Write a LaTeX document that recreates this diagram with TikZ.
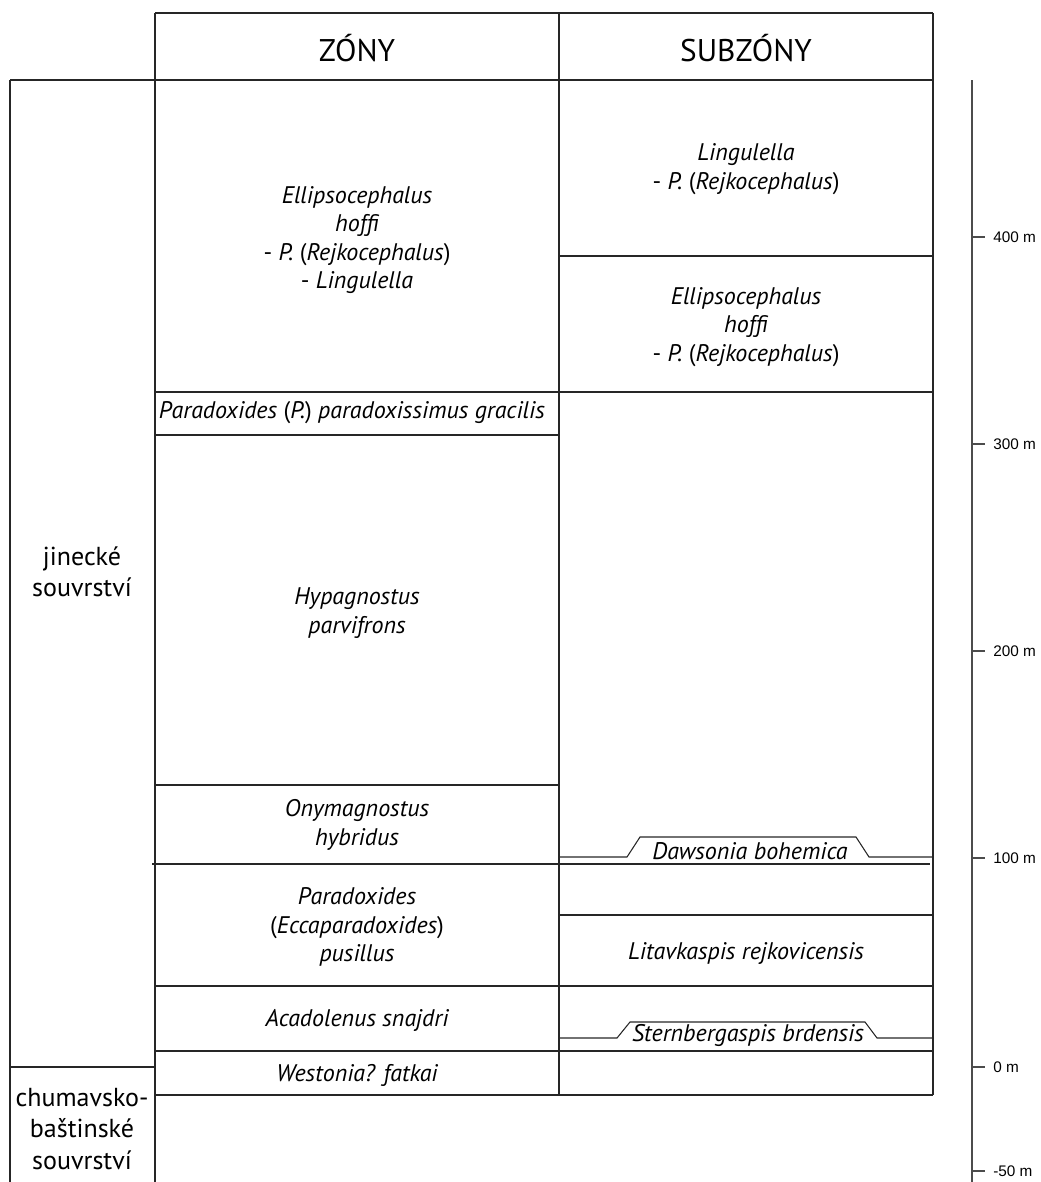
\documentclass[tikz,border=0pt]{standalone}
\usepackage{fontspec}
\setmainfont{PT Sans}
\newfontfamily\scalefamily{Liberation Sans}
\newcommand\uprm[1]{\textup{#1}}
\begin{document}
\begin{tikzpicture}[x=0.75pt,y=-0.75pt,
  rule/.style={draw=black!85, line width=0.8pt},
  taxon/.style={align=center, font=\fontsize{18}{21.3}\selectfont\itshape, inner sep=0},
  head/.style={font=\fontsize{23.5}{26}\selectfont, inner sep=0},
  unit/.style={align=center, font=\fontsize{19.5}{23.5}\selectfont, inner sep=0},
  scl/.style={font=\scalefamily\fontsize{11.5}{13}\selectfont, anchor=west, inner sep=0}]
\useasboundingbox (0,0) rectangle (1040,1182);
% frame
\draw[rule] (155,13) -- (933,13);
\draw[rule] (10,80) -- (933,80);
\draw[rule] (155,13) -- (155,1182);
\draw[rule] (559,13) -- (559,1095);
\draw[rule] (933,13) -- (933,1095);
\draw[rule] (10,80) -- (10,1182);
\draw[rule] (10,1067) -- (155,1067);
\draw[rule] (155,1095) -- (933,1095);
% zone boundaries
\draw[rule] (155,392) -- (933,392);
\draw[rule] (155,435) -- (559,435);
\draw[rule] (155,785) -- (559,785);
\draw[rule] (152,864) -- (930,864);
\draw[rule] (155,986) -- (933,986);
\draw[rule] (155,1051) -- (933,1051);
% subzone boundaries
\draw[rule] (559,256) -- (933,256);
\draw[rule] (559,915) -- (933,915);
\draw[rule] (559,857) -- (627,857) -- (640,837) -- (856,837) -- (869,857) -- (933,857);
\draw[rule] (559,1038) -- (617,1038) -- (630,1022) -- (865,1022) -- (877,1038) -- (933,1038);
% headers
\node[head] (hz) at (357,48) {ZÓNY};
\node[head] (hs) at (746,48) {SUBZÓNY};
% units
\node[unit] (jin) at (82,572) {jinecké\\souvrství};
\node[unit] (chu) at (82,1129) {chumavsko-\\baštinské\\souvrství};
% zones
\node[taxon] (z1) at (357,240) {Ellipsocephalus\\hoffi\\\uprm{-} P. \uprm{(}Rejkocephalus\uprm{)}\\\uprm{-} Lingulella};
\node[taxon] (z2) at (352,413) {Paradoxides \uprm{(}P.\uprm{)} paradoxissimus gracilis};
\node[taxon] (z3) at (357,613) {Hypagnostus\\parvifrons};
\node[taxon] (z4) at (357,825) {Onymagnostus\\hybridus};
\node[taxon] (z5) at (357,927) {Paradoxides\\\uprm{(}Eccaparadoxides\uprm{)}\\pusillus};
\node[taxon] (z6) at (357,1020) {Acadolenus snajdri};
\node[taxon] (z7) at (357,1075) {Westonia? fatkai};
% subzones
\node[taxon] (s1) at (746,169) {Lingulella\\\uprm{-} P. \uprm{(}Rejkocephalus\uprm{)}};
\node[taxon] (s2) at (746,327) {Ellipsocephalus\\hoffi\\\uprm{-} P. \uprm{(}Rejkocephalus\uprm{)}};
\node[taxon] (s3) at (750,851) {Dawsonia bohemica};
\node[taxon] (s4) at (746,953) {Litavkaspis rejkovicensis};
\node[taxon] (s5) at (748,1035) {Sternbergaspis brdensis};
% scale
\draw[rule, draw=black!70] (972,80) -- (972,1182);
\foreach \yy/\lab/\nm in {237/400 m/a, 444/300 m/b, 651/200 m/c, 858/100 m/d, 1067/0 m/e, 1171/-50 m/f}{
  \draw[rule, draw=black!70] (972,\yy) -- (985,\yy);
  \node[scl] (t\nm) at (993,\yy) {\lab};
}
\end{tikzpicture}
\end{document}
